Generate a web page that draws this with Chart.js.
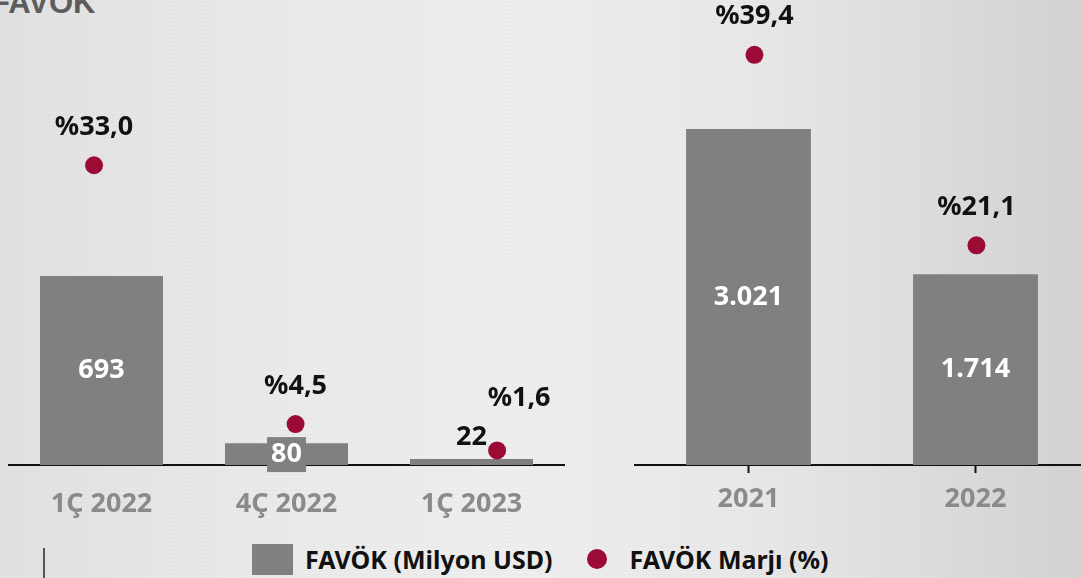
<!DOCTYPE html>
<html lang="tr">
<head>
<meta charset="utf-8">
<script src="https://cdn.jsdelivr.net/npm/chart.js@4"></script>
<style>
  html, body { margin: 0; padding: 0; }
  body {
    width: 1081px; height: 578px; overflow: hidden; position: relative;
    font-family: "Noto Sans", sans-serif;
    background:
      repeating-linear-gradient(0deg, rgba(255,255,255,0) 0 3px, rgba(0,0,0,0.018) 3px 4px),
      linear-gradient(90deg, #e1e1e1 0%, #eaeaea 25%, #eeeeee 48%, #e9e9e9 68%, #d3d3d3 100%);
  }
  .title {
    position: absolute; left: -9px; top: -12px; line-height: 30px;
    font-family: "Liberation Sans", Arial, sans-serif;
    font-size: 31px; font-weight: 700; color: #5c5c5c;
  }
  .box { position: absolute; top: 0; height: 520px; }
  #boxQ { left: 0; width: 573px; }
  #boxY { left: 626px; width: 472px; }
  .legend {
    position: absolute; top: 543px; left: 252px; height: 32px;
    display: flex; align-items: center;
    font-size: 25px; font-weight: 700; color: #111; white-space: nowrap;
  }
  .legend .sq { width: 41px; height: 31px; background: #808080; margin-right: 12px; flex: none; }
  .legend .dot { width: 20px; height: 20px; border-radius: 50%; background: #9c0b36; margin: 0 22px 0 35px; flex: none; }
  .stub { position: absolute; left: 43px; top: 548px; width: 2px; height: 30px; background: #555; }
</style>
</head>
<body>
<div class="title">FAVÖK</div>
<div class="box" id="boxQ"><canvas id="chartQ"></canvas></div>
<div class="box" id="boxY"><canvas id="chartY"></canvas></div>
<div class="legend">
  <span class="sq"></span><span>FAVÖK (Milyon USD)</span>
  <span class="dot"></span><span>FAVÖK Marjı (%)</span>
</div>
<div class="stub"></div>
<script>
// ---------------------------
// Data
// ---------------------------
const quarterLabels = ['1Ç 2022', '4Ç 2022', '1Ç 2023'];
const quarterFavok  = [693, 80, 22];      // Milyon USD
const quarterMargin = [33.0, 4.5, 1.6];   // %

const yearLabels = ['2021', '2022'];
const yearFavok  = [3021, 1714];
const yearMargin = [39.4, 21.1];

const BAR_COLOR = '#808080';
const DOT_COLOR = '#9c0b36';
const FONT = '"Noto Sans", sans-serif';

function fmtUsd(v) {
  return String(v).replace(/\B(?=(\d{3})+(?!\d))/g, '.');
}
function fmtPct(v) {
  return '%' + v.toFixed(1).replace('.', ',');
}

// labels on bars and dots (no datalabels plugin here)
const valueLabels = {
  id: 'valueLabels',
  afterDatasetsDraw(chart) {
    const ctx = chart.ctx;
    ctx.save();
    ctx.font = '700 27px ' + FONT;
    ctx.textBaseline = 'middle';
    ctx.textAlign = 'center';

    const bars = chart.getDatasetMeta(1);
    const outside = [];
    bars.data.forEach((bar, i) => {
      const v = chart.data.datasets[1].data[i];
      const h = bar.base - bar.y;
      const txt = fmtUsd(v);
      outside[i] = h < 12;
      if (outside[i]) {
        ctx.fillStyle = '#111';
        ctx.fillText(txt, bar.x, bar.y - 22);
      } else {
        const cy = bar.y + h / 2;
        if (h < 34) {
          const w = ctx.measureText(txt).width + 8;
          ctx.fillStyle = BAR_COLOR;
          ctx.fillRect(bar.x - w / 2, cy - 17, w, 35);
        }
        ctx.fillStyle = '#fff';
        ctx.fillText(txt, bar.x, cy);
      }
    });

    const dots = chart.getDatasetMeta(0);
    ctx.fillStyle = '#111';
    dots.data.forEach((pt, i) => {
      const v = chart.data.datasets[0].data[i].y;
      // lift the margin label aside when the bar label sits above its bar
      const dx = outside[i] ? 22 : 0;
      const dy = outside[i] ? 52 : 38;
      ctx.fillText(fmtPct(v), pt.x + dx, pt.y - dy);
    });
    ctx.restore();
  }
};

function buildChart(id, labels, favok, margin, opt) {
  return new Chart(document.getElementById(id), {
    type: 'bar',
    data: {
      labels,
      datasets: [
        {
          type: 'line',
          label: 'FAVÖK Marjı (%)',
          data: margin.map((v, i) => ({ x: i, y: v })),
          xAxisID: 'xd',
          yAxisID: 'y1',
          showLine: false,
          pointRadius: 9,
          pointHoverRadius: 9,
          pointBackgroundColor: DOT_COLOR,
          pointBorderWidth: 0,
          order: 0,
        },
        {
          label: 'FAVÖK (Milyon USD)',
          data: favok,
          xAxisID: 'x',
          yAxisID: 'y',
          backgroundColor: BAR_COLOR,
          borderWidth: 0,
          grouped: false,
          barPercentage: opt.barPct,
          categoryPercentage: 1,
          order: 1,
        }
      ]
    },
    options: {
      responsive: true,
      maintainAspectRatio: false,
      animation: false,
      layout: { padding: 0 },
      plugins: { legend: { display: false }, tooltip: { enabled: false } },
      scales: {
        x: {
          afterFit: s => { s.height = 55; },
          grid: {
            display: opt.ticks,
            drawOnChartArea: false,
            offset: false,
            tickLength: 8,
            tickWidth: 2,
            color: '#111',
          },
          border: { display: true, color: '#111', width: 2 },
          ticks: {
            color: '#8a8a8a',
            padding: opt.tickPad,
            font: { family: FONT, size: 27, weight: '700' },
          }
        },
        // the margin dots sit on their own slightly wider grid
        xd: { type: 'linear', display: false, offset: false, min: opt.dMin, max: opt.dMax },
        y:  { display: false, min: 0, max: opt.yMax },
        y1: { display: false, min: 0, max: opt.y1Max, position: 'right' },
      }
    },
    plugins: [valueLabels]
  });
}

window.addEventListener('DOMContentLoaded', () => {
  buildChart('chartQ', quarterLabels, quarterFavok, quarterMargin,
    { barPct: 0.665, yMax: 1672, y1Max: 50.2, dMin: -0.422, dMax: 2.332, ticks: false, tickPad: 15 });
  buildChart('chartY', yearLabels, yearFavok, yearMargin,
    { barPct: 0.55, yMax: 4100, y1Max: 43.8, dMin: -0.538, dMax: 1.507, ticks: true, tickPad: 10 });
});
</script>
</body>
</html>
